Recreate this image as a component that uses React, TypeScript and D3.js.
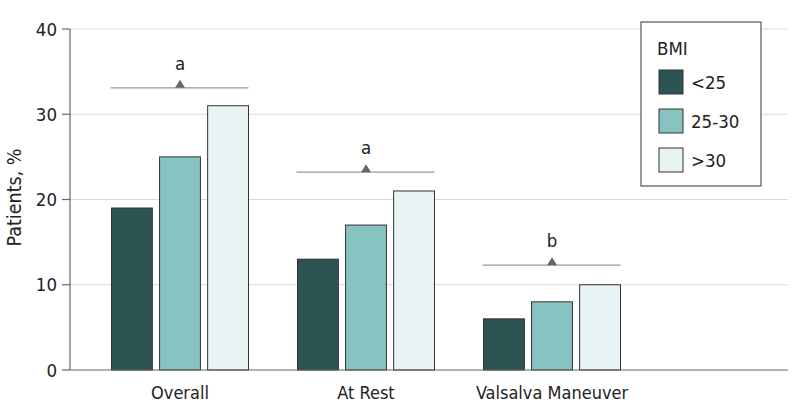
import React from "react";
import * as d3 from "d3";

const categories = ["Overall", "At Rest", "Valsalva Maneuver"];
const seriesNames = ["<25", "25-30", ">30"];
const lt25 = [19, 13, 6];
const mid = [25, 17, 8];
const gt30 = [31, 21, 10];
const annotLevels = [33.1, 23.2, 12.3];
const annotLabels = ["a", "a", "b"];
const yTicks = [0, 10, 20, 30, 40];
const colors = ["#2b5453", "#86c3c1", "#e8f3f4"];

const W = 798;
const H = 420;
const FONT = "'DejaVu Sans Condensed', 'Liberation Sans Narrow', sans-serif";

export default function App() {
  const series = [lt25, mid, gt30];
  const y = d3.scaleLinear().domain([0, 40]).range([370, 29]);
  const x = d3.scaleBand<string>().domain(categories).range([87, 645]).padding(0);
  const inner = d3
    .scaleBand<string>()
    .domain(seriesNames)
    .range([0, 137])
    .paddingInner(0.15)
    .paddingOuter(0);
  const groupOffset = (x.bandwidth() - 137) / 2;
  const plotLeft = 70;
  const plotRight = 788;

  return (
    <svg width={W} height={H} style={{ position: "absolute", left: 0, top: 0 }} fontFamily={FONT}>
      <rect width={W} height={H} fill="#fff" />
      {yTicks.map((t) => (
        <g key={t}>
          {t > 0 && (
            <line x1={plotLeft} x2={plotRight} y1={y(t)} y2={y(t)} stroke="#d9d9d9" strokeWidth={1.2} />
          )}
          <line x1={62} x2={plotLeft} y1={y(t)} y2={y(t)} stroke="#666" strokeWidth={1.2} />
          <text x={57} y={y(t)} dy="0.36em" textAnchor="end" fontSize={18.5} fill="#222">
            {t}
          </text>
        </g>
      ))}
      {categories.map((c, ci) => (
        <g key={c} transform={`translate(${(x(c) as number) + groupOffset},0)`}>
          {seriesNames.map((s, si) => (
            <rect
              key={s}
              x={inner(s) as number}
              y={y(series[si][ci])}
              width={inner.bandwidth()}
              height={y(0) - y(series[si][ci])}
              fill={colors[si]}
              stroke="#333"
              strokeWidth={1}
            />
          ))}
        </g>
      ))}
      {categories.map((c, ci) => {
        const x0 = (x(c) as number) + groupOffset;
        const cx = (x(c) as number) + x.bandwidth() / 2;
        const ly = y(annotLevels[ci]);
        return (
          <g key={"a" + c}>
            <line x1={x0 - 1} x2={x0 + 137} y1={ly} y2={ly} stroke="#999" strokeWidth={1.3} />
            <path d={`M${cx - 5},${ly} L${cx + 5},${ly} L${cx},${ly - 8} Z`} fill="#666" />
            <text x={cx} y={ly - 18} textAnchor="middle" fontSize={18.5} fill="#222">
              {annotLabels[ci]}
            </text>
          </g>
        );
      })}
      <line x1={plotLeft} x2={plotLeft} y1={y(40)} y2={y(0)} stroke="#666" strokeWidth={1.2} />
      <line x1={plotLeft} x2={plotRight} y1={y(0)} y2={y(0)} stroke="#666" strokeWidth={1.2} />
      {categories.map((c) => (
        <text
          key={"l" + c}
          x={(x(c) as number) + x.bandwidth() / 2}
          y={399}
          textAnchor="middle"
          fontSize={18}
          fill="#222"
        >
          {c}
        </text>
      ))}
      <text transform={`translate(21,197.5) rotate(-90)`} textAnchor="middle" fontSize={19.5} fill="#222">
        Patients, %
      </text>
      <g>
        <rect x={641} y={22} width={120} height={164} fill="#fff" stroke="#333" strokeWidth={1} />
        <text x={657} y={55} fontSize={18.5} fill="#222">
          BMI
        </text>
        {seriesNames.map((s, si) => (
          <g key={"lg" + s} transform={`translate(659,${70 + si * 39})`}>
            <rect width={24} height={24} fill={colors[si]} stroke="#333" strokeWidth={1} />
            <text x={32} y={12} dy="0.36em" fontSize={18.5} fill="#222">
              {s}
            </text>
          </g>
        ))}
      </g>
    </svg>
  );
}
